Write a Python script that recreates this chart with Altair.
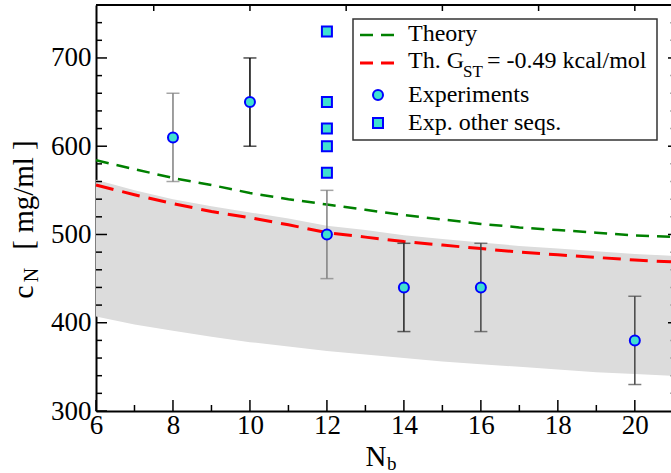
import altair as alt
import pandas as pd

# ---------------- data ----------------
n_exp = [8, 10, 12, 14, 16, 20]
c_exp = [610, 650, 500, 440, 440, 380]
c_exp_lo = [560, 600, 450, 390, 390, 330]
c_exp_hi = [660, 700, 550, 490, 490, 430]
err_col = ["#7f7f7f", "#000000", "#7f7f7f", "#222222", "#444444", "#444444"]

n_other = [12, 12, 12, 12, 12]
c_other = [730, 650, 620, 600, 570]

n_curve = [6, 7, 8, 9, 10, 11, 12, 13, 14, 15, 16, 17, 18, 19, 20, 20.94]
c_theory = [584, 574, 564, 556, 547, 540, 534, 528, 522, 517, 512, 508, 505, 502, 499, 497.5]
c_gst = [556, 545, 535, 526, 519, 511, 502, 497, 492, 488, 484, 480, 477, 474, 471, 469]
band_hi = [562, 550, 540, 532, 525, 518, 510, 505, 499, 495, 491, 487, 484, 481, 478, 476]
band_lo = [407, 398, 391, 384, 378, 373, 368, 364, 360, 356, 353, 350, 347, 344, 342, 340]

x_labels = [6, 8, 10, 12, 14, 16, 18, 20]
x_minor = [7, 9, 11, 13, 15, 17, 19]
x_top = [7.5, 10, 12.5, 15, 17.5, 20]
y_labels = [300, 400, 500, 600, 700]
y_minor = [320, 340, 360, 380, 420, 440, 460, 480, 520, 540, 560, 580,
           620, 640, 660, 680, 720, 740]

# ---------------- layout ----------------
W, H = 575, 406
FONT = "Liberation Serif, Times New Roman, Times, DejaVu Serif, serif"
xs = alt.Scale(domain=[6, 20.94], nice=False, zero=False)
ys = alt.Scale(domain=[300, 760], nice=False, zero=False)

curves = pd.DataFrame({"n": n_curve, "th": c_theory, "g": c_gst, "hi": band_hi, "lo": band_lo})
exp = pd.DataFrame({"n": n_exp, "c": c_exp, "lo": c_exp_lo, "hi": c_exp_hi, "col": err_col})
other = pd.DataFrame({"n": n_other, "c": c_other})
one = alt.Data(values=[{"a": 1}])

band = alt.Chart(curves).mark_area(color="#dcdcdc", opacity=1).encode(
    x=alt.X("n:Q", scale=xs, axis=alt.Axis(
        values=x_labels, ticks=False, grid=False, title=None, domainColor="black",
        domainWidth=2, labelFont=FONT, labelFontSize=27, labelColor="black",
        labelPadding=1, labelFlush=False)),
    y=alt.Y("lo:Q", scale=ys, axis=alt.Axis(
        values=y_labels, ticks=False, grid=False, title=None, domainColor="black",
        domainWidth=2, labelFont=FONT, labelFontSize=27, labelColor="black",
        labelPadding=5, labelFlush=False)),
    y2="hi:Q",
)

theory = alt.Chart(curves).mark_line(color="#008000", strokeWidth=2.5, strokeDash=[13, 8]).encode(
    x=alt.X("n:Q", scale=xs), y=alt.Y("th:Q", scale=ys))
gst = alt.Chart(curves).mark_line(color="#ff0000", strokeWidth=3, strokeDash=[18, 9]).encode(
    x=alt.X("n:Q", scale=xs), y=alt.Y("g:Q", scale=ys))

ebar = alt.Chart(exp).mark_rule(strokeWidth=1.5).encode(
    x=alt.X("n:Q", scale=xs), y=alt.Y("lo:Q", scale=ys), y2="hi:Q",
    color=alt.Color("col:N", scale=None))
cap_lo = alt.Chart(exp).mark_tick(orient="horizontal", size=13, thickness=1.5).encode(
    x=alt.X("n:Q", scale=xs), y=alt.Y("lo:Q", scale=ys), color=alt.Color("col:N", scale=None))
cap_hi = alt.Chart(exp).mark_tick(orient="horizontal", size=13, thickness=1.5).encode(
    x=alt.X("n:Q", scale=xs), y=alt.Y("hi:Q", scale=ys), color=alt.Color("col:N", scale=None))

pts = alt.Chart(exp).mark_point(shape="circle", filled=True, fill="#40e0d0", stroke="#0000ff",
                                strokeWidth=2, size=100, opacity=1).encode(
    x=alt.X("n:Q", scale=xs), y=alt.Y("c:Q", scale=ys))
sq = alt.Chart(other).mark_point(shape="square", filled=True, fill="#40e0d0", stroke="#0000ff",
                                 strokeWidth=2, size=100, opacity=1).encode(
    x=alt.X("n:Q", scale=xs), y=alt.Y("c:Q", scale=ys))

# ---------------- frame ticks ----------------
def yticks(vals, x0, x1, color="black"):
    return alt.Chart(pd.DataFrame({"v": vals})).mark_rule(color=color, strokeWidth=1.5).encode(
        y=alt.Y("v:Q", scale=ys), x=alt.value(x0), x2=alt.value(x1))

def xticks(vals, y0, y1):
    return alt.Chart(pd.DataFrame({"v": vals})).mark_rule(color="black", strokeWidth=1.5).encode(
        x=alt.X("v:Q", scale=xs), y=alt.value(y0), y2=alt.value(y1))

ticks = [
    yticks(y_labels, 0, 11), yticks(y_minor, 0, 6),
    yticks(y_labels[1:], W - 3, W), yticks(y_minor, W - 1, W, "#aaaaaa"),
    xticks(x_labels, H - 11, H), xticks(x_minor, H - 6, H),
    xticks(x_top, 0, 6),
]
top_line = alt.Chart(one).mark_rule(color="black", strokeWidth=2).encode(
    x=alt.value(0), x2=alt.value(W), y=alt.value(0))

# ---------------- legend ----------------
def txt(s, x, y, size=24, angle=0, align="left", baseline="alphabetic"):
    return alt.Chart(one).mark_text(text=s, font=FONT, fontSize=size, color="black",
                                    align=align, baseline=baseline, angle=angle).encode(
        x=alt.value(x), y=alt.value(y))

leg_box = alt.Chart(one).mark_rect(fill="white", stroke="#333333", strokeWidth=1.5).encode(
    x=alt.value(257), x2=alt.value(561), y=alt.value(14), y2=alt.value(135))
leg_th = alt.Chart(one).mark_rule(color="#008000", strokeWidth=2.5, strokeDash=[13, 8]).encode(
    x=alt.value(264), x2=alt.value(299), y=alt.value(30))
leg_g = alt.Chart(one).mark_rule(color="#ff0000", strokeWidth=3, strokeDash=[13, 8]).encode(
    x=alt.value(264), x2=alt.value(299), y=alt.value(58))
leg_c = alt.Chart(one).mark_point(shape="circle", filled=True, fill="#40e0d0", stroke="#0000ff",
                                  strokeWidth=2, size=100, opacity=1).encode(
    x=alt.value(282), y=alt.value(90))
leg_s = alt.Chart(one).mark_point(shape="square", filled=True, fill="#40e0d0", stroke="#0000ff",
                                  strokeWidth=2, size=100, opacity=1).encode(
    x=alt.value(282), y=alt.value(118))

texts = [
    txt("Theory", 312, 36),
    txt("Th. G", 312, 63),
    txt("ST", 367, 72, size=17),
    txt("= -0.49 kcal/mol", 391, 63),
    txt("Experiments", 312, 97),
    txt("Exp. other seqs.", 312, 125),
    # axis titles
    txt("N", 280, 461, size=29, align="center"),
    txt("b", 291, 465, size=19),
    txt("c", -63, 287, size=30, angle=270, align="center"),
    txt("N", -58, 270, size=20, angle=270, align="center"),
    txt("[ mg/ml ]", -63, 190, size=29, angle=270, align="center"),
]

chart = alt.layer(
    band, theory, gst, ebar, cap_lo, cap_hi, pts, sq, *ticks, top_line,
    leg_box, leg_th, leg_g, leg_c, leg_s, *texts
).properties(
    width=W, height=H,
    autosize=alt.AutoSizeParams(type="none"),
    padding={"left": 96, "top": 5, "right": 0, "bottom": 62},
    background="white",
).configure_view(stroke=None)

chart.save("out.html", embed_options={"renderer": "svg", "actions": False})
